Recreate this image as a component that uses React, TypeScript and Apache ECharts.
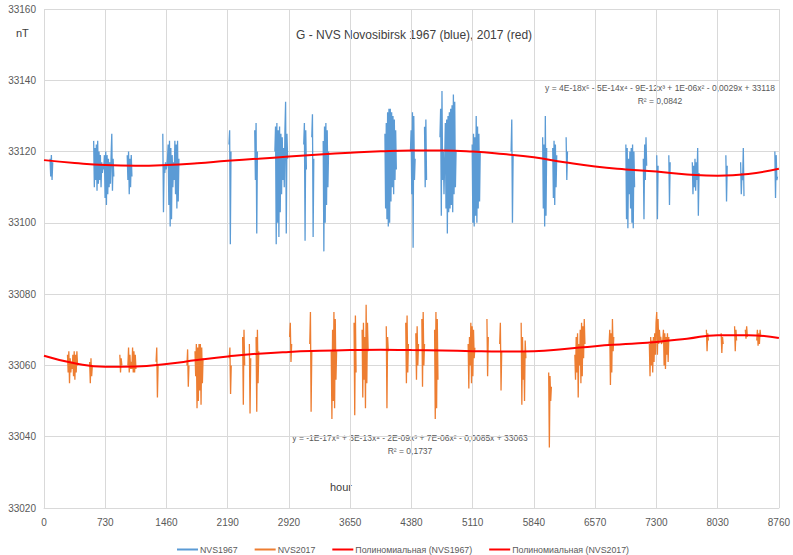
import React, { useEffect, useRef } from "react";
import * as echarts from "echarts";

// ---- data ----
const xTicks = [0, 730, 1460, 2190, 2920, 3650, 4380, 5110, 5840, 6570, 7300, 8030, 8760];
const STEP = 8; // hours between points inside a recording burst

// NVS1967: start hour of each burst and its values (nT)
const blueStarts = [72, 592, 992, 1416, 2205, 2512, 2752, 3096, 3192, 3328, 4064, 4368, 4536, 4720, 5104, 5568, 5944, 6064, 6224, 6936, 7144, 7304, 7448, 7728, 8128, 8304, 8712];
const blueValues = [
  [33118, 33113, 33119, 33112, 33117],
  [33123, 33110, 33121, 33112, 33122, 33109, 33123, 33111, 33120, 33112, 33119, 33110, 33117, 33114, 33116, 33115, 33119, 33107, 33120, 33105, 33119, 33108, 33118, 33110, 33117, 33111, 33119, 33125, 33109, 33118, 33113],
  [33119, 33112, 33120, 33108, 33118, 33110, 33119, 33113],
  [33125, 33103, 33116, 33114, 33117, 33115, 33116, 33118, 33122, 33105, 33123, 33099, 33121, 33101, 33119, 33110, 33117, 33112, 33123, 33108, 33122, 33104, 33123, 33106, 33118],
  [33122, 33126, 33094, 33120],
  [33126, 33112, 33128, 33097, 33120],
  [33120, 33127, 33094, 33128, 33100, 33126, 33096, 33127, 33103, 33125, 33108, 33124, 33112, 33121, 33110, 33126, 33134, 33097, 33125, 33118],
  [33122, 33128, 33095, 33126, 33115],
  [33124, 33130.5, 33096, 33118],
  [33123, 33092, 33127, 33100, 33128, 33105, 33126, 33110, 33120],
  [33125, 33104, 33128, 33101, 33131, 33099, 33132, 33100, 33132, 33106, 33131, 33110, 33130, 33108, 33129, 33112, 33126, 33115],
  [33120, 33126, 33108, 33131, 33093, 33130, 33112, 33118],
  [33127, 33110, 33129, 33112],
  [33124, 33132, 33102, 33137, 33112, 33120, 33108, 33117, 33128, 33104, 33129, 33097, 33130, 33103, 33131, 33104, 33132, 33105, 33133, 33103, 33136, 33108, 33134, 33110, 33120],
  [33122, 33100, 33125, 33099, 33124, 33102, 33130, 33100, 33127, 33104, 33125, 33106, 33120],
  [33120, 33129, 33100, 33119],
  [33124, 33104, 33122, 33099, 33130, 33102, 33121],
  [33121, 33107, 33123, 33105, 33122, 33110, 33119],
  [33124, 33112, 33120],
  [33122, 33101, 33121, 33098.5, 33118, 33108, 33120, 33104, 33121, 33100, 33122, 33098.5, 33120, 33110],
  [33118, 33101, 33122, 33112, 33124, 33116],
  [33119, 33101, 33116],
  [33119, 33105, 33117],
  [33117, 33108, 33116, 33110, 33118, 33109, 33117, 33112, 33121, 33102, 33114],
  [33119, 33106, 33116],
  [33117, 33108, 33114, 33112, 33121, 33107.5],
  [33120, 33107, 33119, 33112, 33113],
];

// NVS2017: start hour of each burst and its values (nT)
const orangeStarts = [280, 544, 904, 1000, 1336, 1704, 1800, 2208, 2368, 2448, 2528, 2928, 3168, 3424, 3696, 3792, 4080, 4312, 4432, 4504, 4656, 5056, 5280, 5432, 5688, 6016, 6328, 6736, 7216, 7896, 8072, 8232, 8360, 8496];
const orangeValues = [
  [33063, 33058, 33064, 33055, 33062, 33058, 33061, 33059, 33063, 33057, 33064, 33056, 33063, 33058, 33064, 33060],
  [33061, 33055, 33062, 33057, 33060],
  [33063, 33058, 33062, 33060],
  [33060, 33065, 33058, 33063, 33059, 33061, 33059, 33065, 33058, 33064, 33058, 33063, 33059],
  [33061, 33065, 33051, 33060],
  [33060, 33064.5, 33054, 33060],
  [33064, 33057, 33066, 33048, 33065, 33050, 33066, 33053, 33066, 33049, 33065, 33055, 33062],
  [33062, 33065, 33052, 33060],
  [33068, 33049, 33070, 33060],
  [33066, 33046.5, 33062],
  [33068, 33047, 33070, 33055, 33064],
  [33068, 33072, 33061, 33066],
  [33066, 33075, 33047, 33064],
  [33064, 33045, 33070, 33050, 33075, 33048, 33073, 33056, 33064],
  [33072, 33046, 33074, 33058],
  [33070, 33051, 33072, 33056, 33068, 33048, 33077, 33055, 33072, 33064],
  [33071, 33048, 33068, 33064],
  [33072, 33055, 33074, 33058, 33066],
  [33069, 33056, 33071, 33060, 33066],
  [33073, 33054, 33075, 33060, 33066],
  [33070, 33045, 33075, 33048, 33073, 33056],
  [33066, 33053.5, 33068, 33060, 33072, 33055, 33071, 33057, 33070, 33062, 33065],
  [33073, 33057, 33068],
  [33066, 33072, 33053, 33064],
  [33072, 33049, 33068, 33056, 33064, 33050, 33067, 33062],
  [33058, 33037, 33057, 33050, 33054],
  [33063, 33056, 33068, 33058, 33069, 33051, 33066, 33060, 33070, 33055, 33072, 33057, 33071, 33062, 33073, 33066],
  [33066, 33070, 33054.5, 33069, 33058, 33073, 33064, 33068],
  [33066, 33057, 33068, 33060, 33067, 33058, 33068, 33061, 33069, 33063, 33072, 33075, 33063, 33073, 33066, 33070, 33067, 33068, 33066, 33066, 33067, 33070, 33060, 33069, 33059, 33068, 33063, 33069, 33061, 33068],
  [33070, 33064, 33069, 33067],
  [33069, 33063.5, 33068, 33066],
  [33071, 33064, 33070, 33067],
  [33070, 33067.5, 33071, 33068],
  [33067, 33070, 33065.5, 33069, 33066, 33070, 33068],
];

// polynomial trend lines, read every 365 h
const trendHours = [0, 365, 730, 1095, 1460, 1825, 2190, 2555, 2920, 3285, 3650, 4015, 4380, 4745, 5110, 5475, 5840, 6205, 6570, 6935, 7300, 7665, 8030, 8395, 8760];
const trend1967 = [33117.6, 33116.8, 33116.2, 33116.0, 33116.2, 33116.7, 33117.4, 33118.0, 33118.6, 33119.2, 33119.7, 33120.1, 33120.3, 33120.3, 33120.0, 33119.3, 33118.4, 33117.0, 33115.8, 33115.0, 33114.4, 33113.6, 33113.2, 33113.7, 33115.2];
const trend2017 = [33062.7, 33060.6, 33059.6, 33059.7, 33060.4, 33061.5, 33062.5, 33063.3, 33063.8, 33064.1, 33064.3, 33064.4, 33064.3, 33064.2, 33064.0, 33063.9, 33064.0, 33064.6, 33065.4, 33066.0, 33066.6, 33067.5, 33068.5, 33068.5, 33067.7];

const seriesNames = ["NVS1967", "NVS2017", "Полиномиальная (NVS1967)", "Полиномиальная (NVS2017)"];
const titleText = "G - NVS Novosibirsk 1967 (blue), 2017 (red)";
const eq1967 = "y = 4E-18x⁵ - 5E-14x⁴ - 9E-12x³ + 1E-06x² - 0,0029x + 33118";
const r1967 = "R² = 0,0842";
const eq2017 = "y = -1E-17x⁵ + 3E-13x⁴ - 2E-09x³ + 7E-06x² - 0,0085x + 33063";
const r2017 = "R² = 0,1737";

function bursts(starts: number[], values: number[][]) {
  const out: (number | null)[][] = [];
  starts.forEach((s, i) => {
    const vals = values[i];
    vals.forEach((v, j) => out.push([s + j * STEP, v]));
    out.push([s + vals.length * STEP + 1, null]);
  });
  return out;
}

const FONT = "'Liberation Sans', 'DejaVu Sans', sans-serif";

export default function App() {
  const ref = useRef<HTMLDivElement>(null);
  useEffect(() => {
    if (!ref.current) return;
    const chart = echarts.init(ref.current, null, { renderer: "svg" });
    const grid = { left: 44, right: 10, top: 9, bottom: 47 };
    chart.setOption({
      animation: false,
      backgroundColor: "#ffffff",
      textStyle: { fontFamily: FONT },
      grid,
      xAxis: {
        type: "value",
        min: 0,
        max: 8760,
        interval: 730,
        axisLine: { show: true, lineStyle: { color: "#d9d9d9", width: 1 } },
        axisTick: { show: false },
        axisLabel: { color: "#595959", fontSize: 10, margin: 9, fontFamily: FONT,
          formatter: (v: number) => (xTicks.includes(v) ? String(v) : "") },
        splitLine: { show: true, lineStyle: { color: "#d9d9d9", width: 1 } },
      },
      yAxis: {
        type: "value",
        min: 33020,
        max: 33160,
        interval: 20,
        axisLine: { show: false },
        axisTick: { show: false },
        axisLabel: { color: "#595959", fontSize: 10, margin: 8, fontFamily: FONT,
          formatter: (v: number) => String(v) },
        splitLine: { show: true, lineStyle: { color: "#d9d9d9", width: 1 } },
      },
      legend: {
        left: 172,
        top: 540,
        itemWidth: 21,
        itemHeight: 2,
        itemGap: 17,
        icon: "rect",
        textStyle: { color: "#595959", fontSize: 8.8, fontFamily: FONT, padding: [0, 0, 0, -3] },
        data: seriesNames,
      },
      series: [
        {
          name: seriesNames[0], type: "line", showSymbol: false, connectNulls: false,
          data: bursts(blueStarts, blueValues),
          lineStyle: { color: "#5b9bd5", width: 1.3 }, itemStyle: { color: "#5b9bd5" },
        },
        {
          name: seriesNames[1], type: "line", showSymbol: false, connectNulls: false,
          data: bursts(orangeStarts, orangeValues),
          lineStyle: { color: "#ed7d31", width: 1.3 }, itemStyle: { color: "#ed7d31" },
        },
        {
          name: seriesNames[2], type: "line", showSymbol: false, smooth: true,
          data: trendHours.map((h, i) => [h, trend1967[i]]),
          lineStyle: { color: "#ff0000", width: 2 }, itemStyle: { color: "#ff0000" },
        },
        {
          name: seriesNames[3], type: "line", showSymbol: false, smooth: true,
          data: trendHours.map((h, i) => [h, trend2017[i]]),
          lineStyle: { color: "#ff0000", width: 2 }, itemStyle: { color: "#ff0000" },
        },
      ],
      graphic: [
        { type: "text", left: 296, top: 29, style: { text: titleText, fill: "#404040", font: `12px ${FONT}` } },
        { type: "text", left: 16, top: 27, style: { text: "nT", fill: "#404040", font: `11px ${FONT}` } },
        { type: "text", left: 330, top: 481, style: { text: "hour", fill: "#404040", font: `11px ${FONT}` } },
        { type: "text", x: 660, y: 88, style: { text: eq1967, fill: "#595959", font: `8.5px ${FONT}`, align: "center", verticalAlign: "middle" } },
        { type: "text", x: 660, y: 101, style: { text: r1967, fill: "#595959", font: `8.5px ${FONT}`, align: "center", verticalAlign: "middle" } },
        { type: "text", x: 410, y: 438, style: { text: eq2017, fill: "#595959", font: `8.5px ${FONT}`, align: "center", verticalAlign: "middle" } },
        { type: "text", x: 410, y: 451, style: { text: r2017, fill: "#595959", font: `8.5px ${FONT}`, align: "center", verticalAlign: "middle" } },
      ],
    });
    return () => chart.dispose();
  }, []);
  return <div ref={ref} style={{ width: 793, height: 555, position: "absolute", left: 0, top: 0 }} />;
}
